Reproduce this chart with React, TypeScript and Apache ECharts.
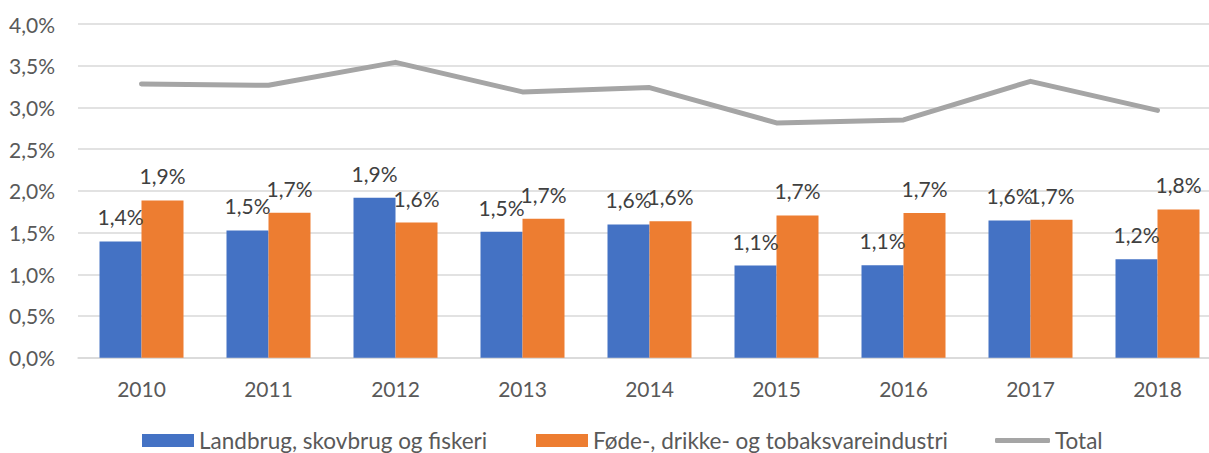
import React, { useEffect, useRef } from "react";
import * as echarts from "echarts";

const categories = ["2010", "2011", "2012", "2013", "2014", "2015", "2016", "2017", "2018"];
const landbrug = [1.393, 1.525, 1.917, 1.509, 1.597, 1.104, 1.109, 1.645, 1.181];
const fode = [1.885, 1.737, 1.62, 1.665, 1.637, 1.705, 1.733, 1.653, 1.777];
const total = [3.282, 3.265, 3.54, 3.186, 3.238, 2.814, 2.85, 3.313, 2.965];
const seriesNames = ["Landbrug, skovbrug og fiskeri", "Føde-, drikke- og tobaksvareindustri", "Total"];

const FONT = "Lato";
const FS = 21;
const LFS = 22.5;
const fmt = (v: number) => v.toFixed(1).replace(".", ",") + "%";

export default function App() {
  const ref = useRef<HTMLDivElement>(null);
  useEffect(() => {
    if (!ref.current) return;
    const chart = echarts.init(ref.current, undefined, { renderer: "svg" });
    const legendText = { fontFamily: FONT, fontSize: LFS, color: "#595959", lineHeight: LFS };
    chart.setOption({
      animation: false,
      textStyle: { fontFamily: FONT },
      grid: {
        left: 78, width: 1143, top: 24, height: 333.7,
        containLabel: false, outerBoundsMode: "none",
      },
      xAxis: {
        type: "category",
        data: categories,
        axisLine: { show: true, lineStyle: { color: "#D9D9D9", width: 1.5 } },
        axisTick: { show: false },
        axisLabel: { color: "#595959", fontFamily: FONT, fontSize: FS, margin: 20, lineHeight: FS },
      },
      yAxis: {
        type: "value",
        min: 0,
        max: 4,
        interval: 0.5,
        axisLine: { show: false },
        axisTick: { show: false },
        splitLine: { lineStyle: { color: "#D9D9D9", width: 1.5 } },
        axisLabel: { color: "#595959", fontFamily: FONT, fontSize: FS, margin: 23, formatter: fmt },
      },
      legend: [
        {
          data: [{ name: seriesNames[0], icon: "rect" }],
          left: 142, top: 429, padding: 0, itemWidth: 52, itemHeight: 13,
          textStyle: legendText, selectedMode: false,
        },
        {
          data: [{ name: seriesNames[1], icon: "rect" }],
          left: 536, top: 429, padding: 0, itemWidth: 52, itemHeight: 13,
          textStyle: legendText, selectedMode: false,
        },
        {
          data: [{ name: seriesNames[2], icon: "roundRect" }],
          left: 995, top: 429, padding: 0, itemWidth: 55, itemHeight: 5,
          textStyle: legendText, selectedMode: false,
        },
      ],
      series: [
        {
          name: seriesNames[0],
          type: "bar",
          data: landbrug,
          barWidth: 42,
          barGap: "0%",
          itemStyle: { color: "#4472C4" },
          label: {
            show: true, position: "top", distance: 14, color: "#404040",
            fontFamily: FONT, fontSize: FS, lineHeight: FS,
            formatter: (p: any) => fmt(p.value),
          },
        },
        {
          name: seriesNames[1],
          type: "bar",
          data: fode,
          barWidth: 42,
          barGap: "0%",
          itemStyle: { color: "#ED7D31" },
          label: {
            show: true, position: "top", distance: 14, color: "#404040",
            fontFamily: FONT, fontSize: FS, lineHeight: FS,
            formatter: (p: any) => fmt(p.value),
          },
        },
        {
          name: seriesNames[2],
          type: "line",
          data: total,
          color: "#A5A5A5",
          symbol: "none",
          showSymbol: false,
          z: 5,
          lineStyle: { color: "#A5A5A5", width: 5, cap: "round", join: "round" },
          itemStyle: { color: "#A5A5A5" },
        },
      ],
    });
    return () => chart.dispose();
  }, []);
  return <div ref={ref} style={{ width: 1209, height: 453, position: "absolute", left: 0, top: 0, overflow: "hidden" }} />;
}
